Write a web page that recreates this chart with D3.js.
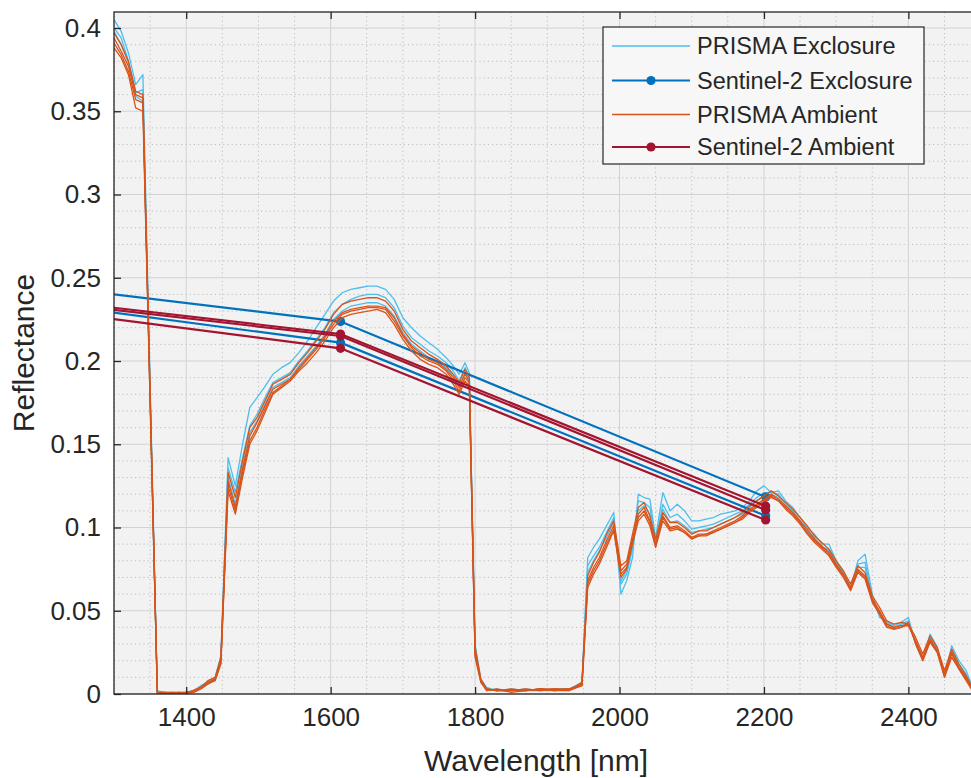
<!DOCTYPE html>
<html><head><meta charset="utf-8">
<script src="https://cdn.jsdelivr.net/npm/d3@7"></script>
<style>
body{margin:0;background:#fff}
text{font-family:Arial,"Liberation Sans",Helvetica,sans-serif;fill:#262626}
</style>
</head><body><svg id="c" width="971" height="778"></svg>
<script>
// ---------------- DATA ----------------
const wavelengths = [
1300,1310,1320,1330,1340,1360,1370,1380,1390,1400,
1410,1420,1430,1440,1448,1458,1468,1478,1488,1498,
1508,1520,1532,1544,1556,1568,1580,1592,1604,1616,
1628,1640,1652,1664,1676,1688,1700,1712,1724,1736,
1748,1760,1770,1778,1786,1792,1800,1808,1816,1830,
1850,1870,1890,1910,1930,1948,1956,1964,1972,1982,
1992,2002,2010,2018,2026,2034,2042,2050,2060,2070,
2080,2090,2100,2110,2120,2130,2140,2150,2160,2170,
2180,2190,2200,2210,2220,2230,2240,2250,2260,2270,
2280,2290,2300,2310,2320,2330,2340,2350,2360,2370,
2380,2390,2400,2410,2420,2430,2440,2450,2460,2470,
2480,2490];

const prismaExclosure1 = [
.405,.398,.385,.366,.372,.002,.001,.001,.000,.001,
.002,.005,.007,.010,.023,.142,.125,.150,.172,.178,
.184,.192,.196,.199,.205,.212,.220,.228,.236,.241,
.243,.244,.245,.245,.243,.237,.226,.220,.215,.211,
.207,.202,.197,.192,.199,.193,.030,.009,.004,.002,
.003,.002,.002,.003,.003,.007,.082,.088,.093,.101,
.109,.060,.068,.082,.120,.118,.117,.094,.121,.110,
.114,.110,.104,.104,.105,.106,.108,.109,.110,.112,
.116,.122,.125,.121,.122,.116,.112,.106,.100,.096,
.090,.090,.080,.074,.063,.080,.084,.060,.046,.044,
.041,.043,.046,.030,.020,.036,.028,.010,.029,.020,
.014,.003];
const prismaExclosure2 = [
.400,.394,.380,.361,.363,.001,.000,.001,.001,.000,
.001,.004,.006,.009,.021,.136,.121,.142,.161,.168,
.177,.187,.190,.193,.200,.206,.213,.220,.229,.234,
.237,.239,.240,.240,.238,.232,.221,.214,.210,.206,
.203,.199,.194,.188,.196,.191,.027,.008,.002,.003,
.002,.003,.002,.002,.003,.006,.077,.083,.088,.097,
.106,.066,.072,.087,.116,.115,.112,.092,.114,.106,
.108,.104,.099,.100,.101,.102,.104,.106,.108,.110,
.114,.118,.121,.121,.120,.114,.110,.104,.098,.094,
.088,.087,.079,.073,.064,.078,.079,.058,.048,.043,
.040,.042,.044,.031,.021,.034,.027,.011,.027,.018,
.012,.002];
const prismaExclosure3 = [
.398,.390,.379,.359,.356,.000,.001,.000,.001,.001,
.002,.004,.007,.008,.019,.130,.114,.137,.157,.164,
.173,.184,.187,.190,.197,.203,.209,.216,.225,.230,
.233,.234,.235,.235,.233,.227,.217,.210,.206,.202,
.200,.196,.191,.185,.193,.189,.024,.007,.003,.002,
.002,.002,.003,.002,.003,.006,.073,.080,.086,.094,
.103,.068,.074,.090,.110,.113,.108,.091,.111,.103,
.104,.101,.097,.098,.099,.100,.102,.104,.106,.108,
.112,.116,.119,.120,.118,.113,.109,.104,.098,.093,
.088,.086,.078,.072,.063,.076,.076,.057,.049,.042,
.040,.041,.043,.031,.021,.033,.026,.011,.025,.017,
.010,.002];

const prismaAmbient1 = [
.394,.386,.377,.360,.358,.001,.001,.000,.001,.001,
.002,.004,.007,.009,.020,.128,.112,.135,.155,.163,
.172,.183,.186,.189,.196,.202,.208,.215,.224,.229,
.231,.232,.233,.233,.232,.226,.216,.209,.205,.201,
.199,.195,.190,.184,.192,.188,.025,.008,.003,.002,
.002,.003,.002,.003,.003,.006,.068,.076,.082,.092,
.101,.074,.078,.093,.108,.112,.104,.090,.107,.100,
.101,.098,.094,.096,.096,.098,.100,.102,.104,.107,
.111,.114,.117,.120,.117,.113,.109,.104,.099,.093,
.089,.085,.078,.072,.064,.075,.071,.057,.050,.042,
.040,.041,.041,.032,.022,.033,.026,.012,.025,.016,
.010,.002];
const prismaAmbient2 = [
.388,.382,.372,.352,.350,.000,.001,.001,.000,.001,
.001,.003,.006,.008,.018,.122,.108,.130,.150,.158,
.168,.180,.184,.188,.194,.199,.205,.212,.220,.226,
.228,.229,.230,.231,.229,.222,.213,.206,.201,.198,
.196,.192,.186,.180,.188,.185,.022,.007,.002,.003,
.001,.002,.003,.002,.002,.005,.064,.072,.078,.088,
.098,.070,.075,.090,.104,.108,.101,.088,.104,.098,
.099,.097,.093,.095,.095,.097,.099,.101,.103,.105,
.109,.112,.115,.118,.116,.111,.107,.102,.096,.091,
.087,.083,.076,.070,.062,.073,.069,.055,.048,.040,
.039,.040,.043,.030,.020,.031,.025,.010,.022,.015,
.008,.001];
const prismaAmbient3 = [
.397,.390,.380,.362,.360,.001,.000,.001,.001,.000,
.002,.004,.008,.010,.022,.133,.118,.140,.160,.166,
.175,.186,.189,.192,.199,.205,.212,.219,.228,.234,
.236,.237,.238,.238,.236,.230,.219,.212,.208,.204,
.201,.197,.192,.187,.195,.190,.028,.009,.003,.002,
.003,.002,.003,.003,.002,.007,.071,.079,.085,.096,
.104,.077,.080,.096,.112,.115,.107,.093,.109,.103,
.103,.100,.096,.098,.098,.100,.102,.104,.106,.109,
.113,.116,.119,.122,.119,.115,.111,.106,.101,.095,
.091,.087,.080,.074,.066,.077,.073,.059,.052,.044,
.042,.043,.042,.034,.024,.035,.028,.014,.027,.018,
.011,.003];
const prismaAmbient4 = [
.391,.384,.374,.357,.355,.001,.001,.000,.000,.001,
.001,.003,.006,.009,.019,.125,.110,.133,.152,.160,
.170,.181,.185,.189,.195,.201,.207,.214,.222,.228,
.230,.231,.232,.232,.231,.224,.215,.208,.203,.200,
.198,.194,.188,.182,.190,.187,.024,.008,.003,.002,
.002,.002,.003,.002,.003,.005,.066,.074,.080,.090,
.099,.072,.076,.092,.106,.110,.103,.089,.106,.099,
.100,.097,.094,.095,.096,.097,.099,.101,.103,.106,
.110,.113,.116,.119,.116,.112,.108,.103,.097,.092,
.088,.084,.077,.071,.063,.074,.070,.056,.049,.041,
.039,.040,.042,.031,.021,.032,.025,.011,.024,.015,
.009,.002];

const sentinelWavelengths = [864.7, 1613.7, 2202.4];
const sentinelExclosure1 = [0.2626, 0.2237, 0.1183];
const sentinelExclosure2 = [0.2540, 0.2110, 0.1070];
const sentinelAmbient1   = [0.2539, 0.2162, 0.1129];
const sentinelAmbient2   = [0.2525, 0.2150, 0.1105];
const sentinelAmbient3   = [0.2496, 0.2076, 0.1045];

const xTicks = [1400, 1600, 1800, 2000, 2200, 2400];
const yTicks = [0, 0.05, 0.1, 0.15, 0.2, 0.25, 0.3, 0.35, 0.4];
const legendLabels = ["PRISMA Exclosure", "Sentinel-2 Exclosure", "PRISMA Ambient", "Sentinel-2 Ambient"];

// ---------------- STYLE / LAYOUT ----------------
const colPE = "#4DBEEE", colSE = "#0072BD", colPA = "#D95319", colSA = "#A2142F";
const L = 114, T = 12, R = 980.6, B = 694;

const svg = d3.select("#c");
const x = d3.scaleLinear().domain([1300, 2500]).range([L, R]);
const y = d3.scaleLinear().domain([0, 0.41]).range([B, B - 0.41 * 1665]);

svg.append("rect").attr("x", L).attr("y", T).attr("width", R - L).attr("height", B - T).attr("fill", "#f2f2f2");

svg.append("defs").append("clipPath").attr("id", "clip")
  .append("rect").attr("x", L).attr("y", T).attr("width", R - L).attr("height", B - T);

// minor grid
const gMinor = svg.append("g").attr("stroke", "#bdbdbd").attr("stroke-width", 1).attr("stroke-dasharray", "1.2,3");
d3.range(1300, 2501, 50).filter(v => v % 200 !== 0).forEach(v => {
  gMinor.append("line").attr("x1", x(v)).attr("x2", x(v)).attr("y1", T).attr("y2", B);
});
d3.range(0, 41, 1).filter(v => v % 5 !== 0).forEach(v => {
  gMinor.append("line").attr("x1", L).attr("x2", R).attr("y1", y(v / 100)).attr("y2", y(v / 100));
});
// major grid
const gMajor = svg.append("g").attr("stroke", "#d2d2d2").attr("stroke-width", 1);
xTicks.forEach(v => gMajor.append("line").attr("x1", x(v)).attr("x2", x(v)).attr("y1", T).attr("y2", B));
yTicks.forEach(v => gMajor.append("line").attr("x1", L).attr("x2", R).attr("y1", y(v)).attr("y2", y(v)));

// data
const plot = svg.append("g").attr("clip-path", "url(#clip)");
const line = d3.line().x(d => x(d[0])).y(d => y(d[1]));

function prisma(vals, col) {
  plot.append("path").datum(wavelengths.map((w, i) => [w, vals[i]]))
    .attr("d", line).attr("fill", "none").attr("stroke", col).attr("stroke-width", 1.3)
    .attr("stroke-linejoin", "round");
}
function sentinel(vals, col) {
  const pts = sentinelWavelengths.map((w, i) => [w, vals[i]]);
  plot.append("path").datum(pts).attr("d", line).attr("fill", "none")
    .attr("stroke", col).attr("stroke-width", 2.2);
  plot.selectAll(null).data(pts).enter().append("circle")
    .attr("cx", d => x(d[0])).attr("cy", d => y(d[1])).attr("r", 4.6).attr("fill", col);
}

[prismaExclosure1, prismaExclosure2, prismaExclosure3].forEach(v => prisma(v, colPE));
[sentinelExclosure1, sentinelExclosure2].forEach(v => sentinel(v, colSE));
[prismaAmbient1, prismaAmbient4, prismaAmbient2, prismaAmbient3].forEach(v => prisma(v, colPA));
[sentinelAmbient1, sentinelAmbient2, sentinelAmbient3].forEach(v => sentinel(v, colSA));

// axes
const axX = svg.append("g").attr("transform", `translate(0,${B})`)
  .call(d3.axisBottom(x).tickValues(xTicks).tickSize(-7).tickSizeOuter(0).tickPadding(14).tickFormat(d3.format("d")));
const axXt = svg.append("g").attr("transform", `translate(0,${T})`)
  .call(d3.axisTop(x).tickValues(xTicks).tickSize(-7).tickSizeOuter(0).tickFormat(""));
const axY = svg.append("g").attr("transform", `translate(${L},0)`)
  .call(d3.axisLeft(y).tickValues(yTicks).tickSize(-7).tickSizeOuter(0).tickPadding(13).tickFormat(d => String(+d.toFixed(2))));
const axYr = svg.append("g").attr("transform", `translate(${R},0)`)
  .call(d3.axisRight(y).tickValues(yTicks).tickSize(-7).tickSizeOuter(0).tickFormat(""));
[axX, axXt, axY, axYr].forEach(a => {
  a.select(".domain").remove();
  a.selectAll(".tick line").attr("stroke", "#262626").attr("stroke-width", 1.3);
  a.selectAll("text").attr("font-size", 26).attr("fill", "#262626")
    .attr("font-family", "Arial, 'Liberation Sans', sans-serif");
});

svg.append("rect").attr("x", L).attr("y", T).attr("width", R - L).attr("height", B - T)
  .attr("fill", "none").attr("stroke", "#262626").attr("stroke-width", 1.3);

// axis labels
svg.append("text").attr("x", 536).attr("y", 771).attr("text-anchor", "middle")
  .attr("font-size", 30).text("Wavelength [nm]");
svg.append("text").attr("transform", `translate(34,${(T + B) / 2}) rotate(-90)`).attr("text-anchor", "middle")
  .attr("font-size", 30).text("Reflectance");

// legend
const lg = svg.append("g");
lg.append("rect").attr("x", 603).attr("y", 27).attr("width", 321).attr("height", 137)
  .attr("fill", "#f7f7f7").attr("stroke", "#262626").attr("stroke-width", 1.2);
const legCols = [colPE, colSE, colPA, colSA];
const legMark = [false, true, false, true];
const legY = [46, 80.5, 114.5, 147];
legendLabels.forEach((t, i) => {
  lg.append("line").attr("x1", 612).attr("x2", 690).attr("y1", legY[i]).attr("y2", legY[i])
    .attr("stroke", legCols[i]).attr("stroke-width", legMark[i] ? 2 : 1.5);
  if (legMark[i]) lg.append("circle").attr("cx", 651).attr("cy", legY[i]).attr("r", 4.6).attr("fill", legCols[i]);
  lg.append("text").attr("x", 697).attr("y", legY[i]).attr("dy", "0.36em").attr("font-size", 23.5).text(t);
});
</script></body></html>
